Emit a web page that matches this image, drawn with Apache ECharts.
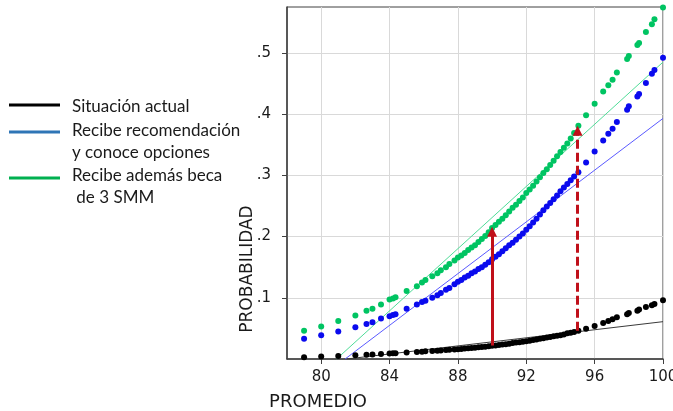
<!DOCTYPE html>
<html><head><meta charset="utf-8">
<script src="https://cdn.jsdelivr.net/npm/echarts@6/dist/echarts.min.js"></script>
<style>html,body{margin:0;padding:0;background:#fff}#c{width:673px;height:411px}</style>
</head><body><div id="c"></div>
<script>
// Promedio (x) shared by the three scatter series
const promedio = [79, 80, 81, 82, 82.65, 83, 83.5, 84, 84.2, 84.35,
  85, 85.6, 85.9, 86.1, 86.5, 86.8, 87, 87.3, 87.5, 87.8,
  88, 88.2, 88.4, 88.6, 88.8, 89, 89.2, 89.4, 89.6, 89.8,
  90, 90.2, 90.4, 90.6, 90.8, 91, 91.2, 91.4, 91.6, 91.8,
  92, 92.2, 92.4, 92.6, 92.8, 93, 93.2, 93.4, 93.6, 93.8,
  94, 94.2, 94.4, 94.6, 94.8, 95.05, 95.5, 96, 96.5, 96.8,
  97.05, 97.3, 97.9, 98, 98.5, 98.6, 99, 99.35, 99.5, 100];
const probActual = [0.003, 0.004, 0.005, 0.006, 0.007, 0.0075, 0.008, 0.009, 0.0092, 0.0095,
  0.0105, 0.0115, 0.012, 0.0125, 0.013, 0.0135, 0.014, 0.0145, 0.015, 0.0155,
  0.016, 0.0165, 0.017, 0.0175, 0.018, 0.0185, 0.019, 0.0195, 0.020, 0.021,
  0.0215, 0.022, 0.023, 0.0235, 0.024, 0.025, 0.026, 0.027, 0.0275, 0.028,
  0.029, 0.030, 0.031, 0.032, 0.033, 0.034, 0.035, 0.036, 0.037, 0.038,
  0.039, 0.040, 0.042, 0.043, 0.044, 0.046, 0.0496, 0.054, 0.059, 0.062,
  0.065, 0.068, 0.073, 0.075, 0.079, 0.081, 0.085, 0.088, 0.090, 0.096];
const probRecomendacion = [0.033, 0.039, 0.045, 0.052, 0.057, 0.060, 0.066, 0.070, 0.072, 0.073,
  0.082, 0.089, 0.093, 0.095, 0.100, 0.104, 0.108, 0.113, 0.116, 0.122,
  0.126, 0.129, 0.133, 0.136, 0.140, 0.143, 0.147, 0.150, 0.154, 0.158,
  0.163, 0.167, 0.171, 0.176, 0.181, 0.186, 0.190, 0.195, 0.200, 0.205,
  0.211, 0.217, 0.223, 0.229, 0.236, 0.243, 0.249, 0.255, 0.261, 0.267,
  0.274, 0.280, 0.286, 0.292, 0.298, 0.305, 0.321, 0.339, 0.357, 0.368,
  0.376, 0.387, 0.407, 0.413, 0.429, 0.433, 0.451, 0.466, 0.472, 0.492];
const probBeca = [0.046, 0.053, 0.062, 0.071, 0.079, 0.082, 0.089, 0.097, 0.099, 0.101,
  0.111, 0.119, 0.125, 0.129, 0.135, 0.140, 0.145, 0.150, 0.155, 0.161,
  0.166, 0.169, 0.173, 0.178, 0.182, 0.186, 0.191, 0.196, 0.201, 0.207,
  0.214, 0.219, 0.224, 0.229, 0.235, 0.241, 0.247, 0.252, 0.258, 0.264,
  0.271, 0.277, 0.283, 0.290, 0.297, 0.304, 0.310, 0.317, 0.324, 0.331,
  0.338, 0.345, 0.352, 0.360, 0.369, 0.381, 0.398, 0.417, 0.437, 0.447,
  0.456, 0.468, 0.490, 0.495, 0.513, 0.516, 0.534, 0.547, 0.555, 0.574];
// Straight (linear) fits: end points
const fitActualX = [81.5, 100], fitActualY = [0, 0.061];
const fitRecomendacionX = [81.4, 100], fitRecomendacionY = [0, 0.393];
const fitBecaX = [80.9, 100], fitBecaY = [0, 0.485];
// Arrows
const arrowX = [90, 95];
const arrowBottom = [0.022, 0.046];
const arrowTop = [0.208, 0.373];
// Axes
const xTicks = [80, 84, 88, 92, 96, 100];
const yTicks = [0.1, 0.2, 0.3, 0.4, 0.5];
const yTickLabels = ['.1', '.2', '.3', '.4', '.5'];
const legendLabels = ['Situación actual', 'Recibe recomendación\ny conoce opciones', 'Recibe además beca\n de 3 SMM'];
const legendColors = ['#000000', '#2e75b6', '#00b050'];

const zip = (xs, ys) => xs.map((x, i) => [x, ys[i]]);
const chart = echarts.init(document.getElementById('c'), null, {renderer: 'canvas'});
const tickFont = {fontFamily: 'DejaVu Sans', fontSize: 15, color: '#1a1a1a'};

function fitSeries(name, xs, ys, color) {
  return {name, type: 'line', data: zip(xs, ys), showSymbol: false, silent: true,
    lineStyle: {color, width: 1}, z: 2, animation: false};
}
function dotSeries(name, ys, color, z) {
  return {name, type: 'scatter', data: zip(promedio, ys), symbol: 'circle', symbolSize: 6,
    itemStyle: {color, opacity: 1}, silent: true, z, animation: false};
}
const arrowLines = arrowX.map((x, i) => [
  {coord: [x, arrowBottom[i]], symbol: 'none',
   lineStyle: {color: '#c0101a', width: 3, type: i === 0 ? 'solid' : [9, 4]}},
  {coord: [x, arrowTop[i]], symbol: 'triangle', symbolSize: 10, itemStyle: {color: '#c0101a'}}
]);

const legendGraphics = [];
const legendY = [105, 132, 178];
const legendTextY = [107, 131, 176];
legendLabels.forEach((lab, i) => {
  legendGraphics.push({type: 'line', shape: {x1: 9, y1: legendY[i], x2: 60, y2: legendY[i]},
    style: {stroke: legendColors[i], lineWidth: 3}});
  legendGraphics.push({type: 'text', x: 72, y: legendTextY[i] - 11,
    style: {text: lab, font: '17px Lato', fill: '#1a1a1a', lineHeight: 22, textVerticalAlign: 'top'}});
});

chart.setOption({
  animation: false,
  grid: {left: 287, top: 7, right: 10, bottom: 52, show: true, borderColor: '#404040', borderWidth: 1,
    outerBoundsMode: 'none', containLabel: false},
  xAxis: {type: 'value', min: 78, max: 100,
    axisLine: {show: true, lineStyle: {color: '#404040', width: 1.5}},
    axisTick: {show: true, length: 5, customValues: xTicks, lineStyle: {color: '#404040'}},
    axisLabel: {customValues: xTicks, margin: 11, ...tickFont},
    splitLine: {show: true, lineStyle: {color: '#d9d9d9', width: 1}}},
  yAxis: {type: 'value', min: 0, max: 0.575,
    axisLine: {show: true, lineStyle: {color: '#404040', width: 1.5}},
    axisTick: {show: true, length: 5, customValues: yTicks, lineStyle: {color: '#404040'}},
    axisLabel: {customValues: yTicks, margin: 16, ...tickFont,
      formatter: v => { const k = yTicks.findIndex(t => Math.abs(t - v) < 1e-6); return k >= 0 ? yTickLabels[k] : ''; }},
    splitLine: {show: true, lineStyle: {color: '#d9d9d9', width: 1}}},
  series: [
    fitSeries('fitActual', fitActualX, fitActualY, '#3a3a3a'),
    fitSeries('fitRecomendacion', fitRecomendacionX, fitRecomendacionY, '#5a5aff'),
    fitSeries('fitBeca', fitBecaX, fitBecaY, '#50dc98'),
    dotSeries('Recibe además beca de 3 SMM', probBeca, '#00c462', 3),
    dotSeries('Recibe recomendación y conoce opciones', probRecomendacion, '#0a0aee', 3),
    dotSeries('Situación actual', probActual, '#000000', 4),
    {name: 'arrows', type: 'line', data: [], silent: true, z: 5,
      markLine: {silent: true, animation: false, symbol: ['none', 'triangle'], symbolSize: 10,
        label: {show: false}, emphasis: {disabled: true}, data: arrowLines}}
  ],
  graphic: legendGraphics.concat([
    {type: 'text', x: 318, y: 402, style: {text: 'PROMEDIO', font: '18px "DejaVu Sans"', fill: '#1a1a1a', align: 'center', verticalAlign: 'middle'}},
    {type: 'text', x: 248, y: 269, rotation: Math.PI / 2, style: {text: 'PROBABILIDAD', font: '17px "DejaVu Sans"', fill: '#1a1a1a', align: 'center', verticalAlign: 'middle'}}
  ])
});
</script></body></html>
